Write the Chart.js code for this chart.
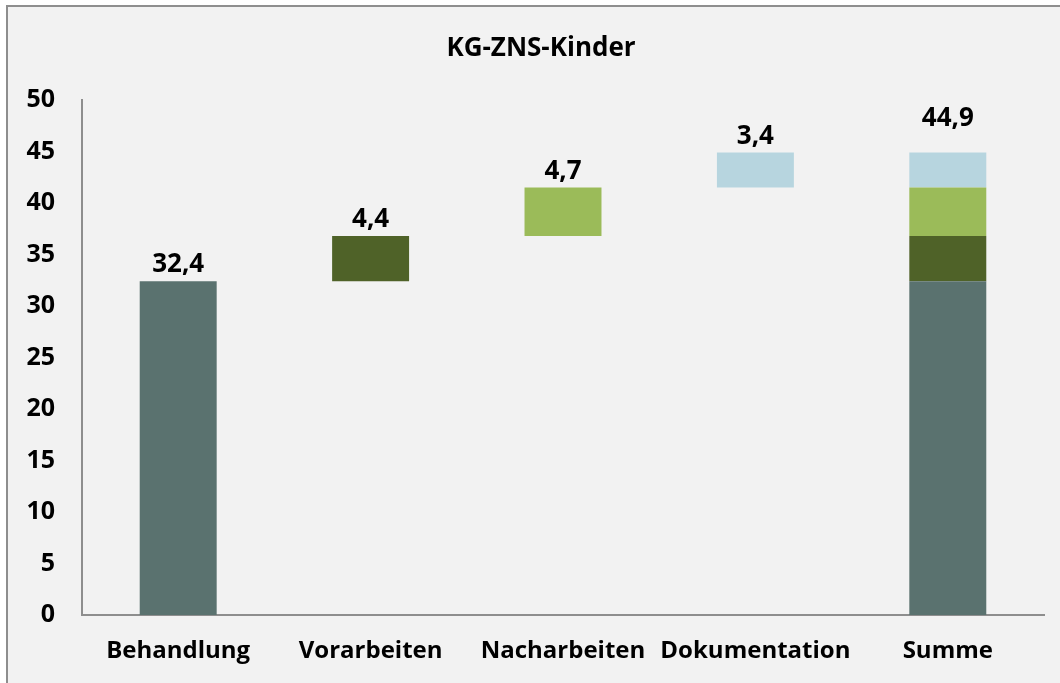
<!DOCTYPE html>
<html>
<head>
<meta charset="utf-8">
<script src="https://cdn.jsdelivr.net/npm/chart.js@4.4.1/dist/chart.umd.min.js"></script>
<style>
  html, body { margin: 0; padding: 0; background: #ffffff; }
  body { width: 1060px; height: 683px; position: relative; overflow: hidden; }
  #frame { position: absolute; left: 6px; top: 5px; right: -10px; bottom: -10px;
           background: #f2f2f2; border-left: 2px solid #8e8e8e; border-top: 2px solid #8e8e8e; }
  #wrap { position: absolute; left: 0; top: 0; width: 1060px; height: 683px; }
</style>
</head>
<body>
<div id="frame"></div>
<div id="wrap"><canvas id="c" width="1060" height="683"></canvas></div>
<script>
const titleText = "KG-ZNS-Kinder";
const categories = ["Behandlung", "Vorarbeiten", "Nacharbeiten", "Dokumentation", "Summe"];
const increments = [32.4, 4.4, 4.7, 3.4];
const segmentColors = ["#5a726f", "#4f6228", "#9bbb59", "#b7d5df"];
const yTicks = [0, 5, 10, 15, 20, 25, 30, 35, 40, 45, 50];

const fontFamily = "'Open Sans', 'DejaVu Sans', sans-serif";
const fmt = v => v.toFixed(1).replace('.', ',');

// cumulative starts
const starts = [];
let acc = 0;
increments.forEach(v => { starts.push(acc); acc += v; });
const total = Math.round(acc * 10) / 10;
const lastIdx = categories.length - 1;

const datasets = increments.map((v, i) => {
  const data = categories.map(() => null);
  const seg = [starts[i], Math.round((starts[i] + v) * 10) / 10];
  data[i] = seg;
  data[lastIdx] = seg;
  return {
    label: categories[i],
    data,
    backgroundColor: segmentColors[i],
    borderWidth: 0,
    grouped: false,
    categoryPercentage: 1.0,
    barPercentage: 0.4
  };
});

const labelPlugin = {
  id: 'waterfallLabels',
  afterDatasetsDraw(chart) {
    const ctx = chart.ctx;
    const y = chart.scales.y;
    const x = chart.scales.x;
    ctx.save();
    ctx.font = "bold 26px " + fontFamily;
    ctx.fillStyle = "#000000";
    ctx.textAlign = "center";
    ctx.textBaseline = "alphabetic";
    increments.forEach((v, i) => {
      const top = y.getPixelForValue(starts[i] + v);
      ctx.fillText(fmt(v), x.getPixelForValue(i), top - 9);
    });
    const tTop = y.getPixelForValue(total);
    ctx.fillText(fmt(total), x.getPixelForValue(lastIdx), tTop - 27);
    // chart title, centred over the whole chart frame
    ctx.fillText(titleText, 541, 56);
    ctx.restore();
  }
};

new Chart(document.getElementById('c'), {
  type: 'bar',
  data: { labels: categories, datasets },
  options: {
    responsive: false,
    animation: false,
    layout: { padding: { left: 0, right: 16, top: 100, bottom: 0 } },
    plugins: {
      legend: { display: false },
      tooltip: { enabled: false },
      title: { display: false }
    },
    scales: {
      x: {
        grid: { display: false, drawTicks: false },
        border: { display: true, color: "#8e8e8e", width: 2 },
        ticks: {
          color: "#000000",
          font: { family: fontFamily, size: 24, weight: 'bold' },
          padding: 22,
          maxRotation: 0,
          autoSkip: false
        },
        afterFit(scale) { scale.height = 68; }
      },
      y: {
        min: 0,
        max: 50,
        afterBuildTicks(scale) { scale.ticks = yTicks.map(v => ({ value: v })); },
        grid: { display: false, drawTicks: false },
        border: { display: true, color: "#8e8e8e", width: 2 },
        ticks: {
          color: "#000000",
          font: { family: fontFamily, size: 25, weight: 'bold' },
          padding: 27
        },
        afterFit(scale) { scale.width = 82; }
      }
    }
  },
  plugins: [labelPlugin]
});
</script>
</body>
</html>
